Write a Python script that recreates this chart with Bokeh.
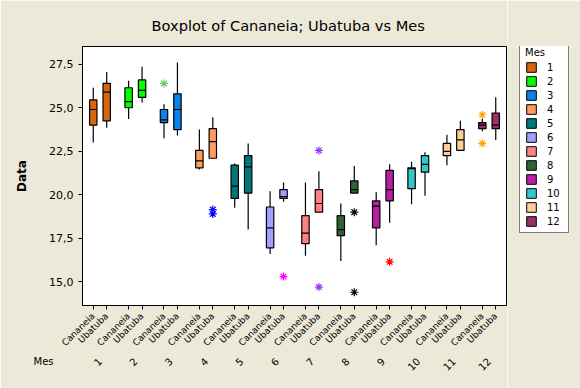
from math import pi
from bokeh.plotting import figure
from bokeh.layouts import row
from bokeh.models import (FactorRange, Range1d, FixedTicker, ColumnDataSource,
                          Legend, LegendItem, Label)
from bokeh.embed import file_html
from bokeh.resources import INLINE

# ---------------- data ----------------
months = ["1", "2", "3", "4", "5", "6", "7", "8", "9", "10", "11", "12"]
sites = ["Cananeia", "Ubatuba"]

# one value per (month, site), in order 1-Cananeia, 1-Ubatuba, 2-Cananeia, ...
lower = [23.0, 23.85, 24.35, 25.3, 23.25, 23.4, 21.45, 22.1, 19.25, 18.0, 16.6, 19.6,
         16.5, 19.0, 16.2, 20.1, 17.1, 18.4, 19.45, 19.95, 21.7, 22.55, 23.65, 23.15]
q1 = [24.0, 24.25, 25.0, 25.6, 24.15, 23.75, 21.55, 22.1, 19.8, 20.1, 16.95, 19.8,
      17.2, 19.0, 17.65, 20.1, 18.1, 19.65, 20.35, 21.3, 22.25, 22.55, 23.8, 23.8]
median = [24.9, 25.9, 25.35, 26.0, 24.3, 24.9, 21.95, 23.05, 20.5, 21.6, 18.1, 19.9,
          17.8, 19.5, 18.0, 20.3, 19.35, 20.3, 21.5, 21.75, 22.5, 23.15, 24.0, 24.0]
q3 = [25.45, 26.4, 26.15, 26.6, 24.9, 25.8, 22.55, 23.8, 21.7, 22.25, 19.3, 20.3,
      18.8, 20.3, 18.8, 20.8, 19.65, 21.4, 21.55, 22.25, 22.95, 23.75, 24.15, 24.7]
upper = [26.15, 27.05, 26.55, 27.35, 25.2, 27.6, 23.75, 24.45, 21.8, 22.95, 20.2, 20.7,
         20.7, 21.35, 19.5, 21.65, 20.15, 21.75, 21.9, 22.45, 23.45, 24.25, 24.35, 25.6]

outlier_month = ["3", "4", "4", "6", "7", "7", "8", "8", "9", "12", "12"]
outlier_site = ["Cananeia", "Ubatuba", "Ubatuba", "Ubatuba", "Ubatuba", "Ubatuba",
                "Ubatuba", "Ubatuba", "Ubatuba", "Cananeia", "Cananeia"]
outlier_value = [26.4, 19.15, 18.9, 15.3, 22.55, 14.7, 19.0, 14.4, 16.15, 24.6, 22.95]

y_ticks = [15.0, 17.5, 20.0, 22.5, 25.0, 27.5]
y_tick_labels = ["15,0", "17,5", "20,0", "22,5", "25,0", "27,5"]
x_group_name = "Mes"

# ---------------- styles ----------------
palette = ["#D8650C", "#00FF00", "#0A82EB", "#FF9B5F", "#007878", "#A0A0FF",
           "#FF8282", "#2F6432", "#B91EA5", "#32C8C8", "#FFCD96", "#963264"]
outlier_palette = {"3": "#66CC66", "4": "#0000FF", "6": "#FF00FF", "7": "#9933FF",
                   "8": "#000000", "9": "#FF0000", "12": "#FFA500"}
BG = "#ECE9D8"
FONT = "DejaVu Sans"
BOX_W = 0.55

factors = [(m, s) for m in months for s in sites]
colors = [palette[months.index(m)] for m, s in factors]

src = ColumnDataSource(dict(
    x=factors, lower=lower, q1=q1, median=median, q3=q3, upper=upper, color=colors,
    xl=[(m, s, -BOX_W / 2) for m, s in factors],
    xr=[(m, s, BOX_W / 2) for m, s in factors],
))
osrc = ColumnDataSource(dict(
    x=list(zip(outlier_month, outlier_site)), y=outlier_value,
    color=[outlier_palette[m] for m in outlier_month],
))

p = figure(width=507, height=388, output_backend="svg", toolbar_location=None,
           x_range=FactorRange(*factors, group_padding=0.63, range_padding=0.3,
                               range_padding_units="absolute"),
           y_range=Range1d(13.64, 28.52),
           min_border_left=82, min_border_right=1, min_border_top=46,
           min_border_bottom=80)

p.border_fill_color = BG
p.background_fill_color = "white"
p.outline_line_color = "black"
p.grid.visible = False

# whiskers
p.segment(x0="x", x1="x", y0="q3", y1="upper", source=src, line_color="black", line_width=1.2)
p.segment(x0="x", x1="x", y0="q1", y1="lower", source=src, line_color="black", line_width=1.2)
# boxes
boxes = p.vbar(x="x", bottom="q1", top="q3", width=BOX_W, source=src,
               fill_color="color", line_color="black", line_width=1.2)
# medians
p.segment(x0="xl", x1="xr", y0="median", y1="median", source=src,
          line_color="black", line_width=1.2)
# outliers
p.scatter(x="x", y="y", source=osrc, marker="asterisk", size=8,
          line_color="color", line_width=1.2)

# title (centred over the whole chart, as in the original)
p.title.text = "Boxplot of Cananeia; Ubatuba vs Mes"
p.title.align = "left"
p.title.offset = 69
p.title.text_font = FONT
p.title.text_font_size = "14.6px"
p.title.text_font_style = "normal"
p.title.text_color = "black"
p.title.standoff = 26

# y axis
ya = p.yaxis[0]
ya.ticker = FixedTicker(ticks=y_ticks)
ya.major_label_overrides = {t: l for t, l in zip(y_ticks, y_tick_labels)}
ya.axis_label = "Data"
ya.axis_label_text_font = FONT
ya.axis_label_text_font_size = "12px"
ya.axis_label_text_font_style = "bold"
ya.axis_label_text_color = "black"
ya.axis_label_standoff = 17
ya.major_label_text_font = FONT
ya.major_label_text_font_size = "11px"
ya.major_label_text_color = "black"
ya.major_tick_in = 0
ya.major_tick_out = 4
ya.minor_tick_line_color = None
ya.axis_line_color = "black"

# x axis
xa = p.xaxis[0]
xa.major_label_orientation = pi / 4
xa.group_label_orientation = pi / 4
xa.separator_line_alpha = 0
xa.major_label_text_font = FONT
xa.major_label_text_font_size = "9px"
xa.major_label_text_color = "black"
xa.group_text_font = FONT
xa.group_text_font_size = "10px"
xa.group_text_font_style = "normal"
xa.group_text_color = "black"
xa.major_tick_in = 0
xa.major_tick_out = 4
xa.axis_line_color = "black"

# caption for the month row, placed in the bottom panel
p.add_layout(Label(x=-49, y=27, x_units="screen", y_units="screen", text=x_group_name,
                   text_font=FONT, text_font_size="10px", text_baseline="middle",
                   text_color="black"),
             "below")

# ---------------- legend strip at the right ----------------
lf = figure(width=73, height=388, output_backend="svg", toolbar_location=None,
            x_range=Range1d(0, 1), y_range=Range1d(0, 1),
            x_axis_type=None, y_axis_type=None,
            min_border_left=0, min_border_right=0, min_border_top=0, min_border_bottom=0)
lf.border_fill_color = BG
lf.background_fill_color = BG
lf.outline_line_color = None
lf.grid.visible = False
keys = lf.vbar(x=[5] * len(months), top=[1] * len(months), width=0.5,
               fill_color=palette, line_color="black", line_width=1)

legend = Legend(items=[LegendItem(label=m, renderers=[keys], index=i)
                       for i, m in enumerate(months)],
                location=(12, 72), title="Mes")
legend.title_text_font = FONT
legend.title_text_font_size = "10px"
legend.title_text_font_style = "normal"
legend.title_text_color = "black"
legend.title_standoff = 3
legend.label_text_font = FONT
legend.label_text_font_size = "10px"
legend.label_text_color = "black"
legend.glyph_width = 12
legend.glyph_height = 12
legend.label_height = 12
legend.label_width = 16
legend.label_standoff = 10
legend.spacing = 2
legend.padding = 5
legend.margin = 0
legend.border_line_color = "black"
legend.background_fill_color = "white"
legend.background_fill_alpha = 1
lf.add_layout(legend)

open("out.html", "w").write(file_html(row(p, lf), INLINE))
